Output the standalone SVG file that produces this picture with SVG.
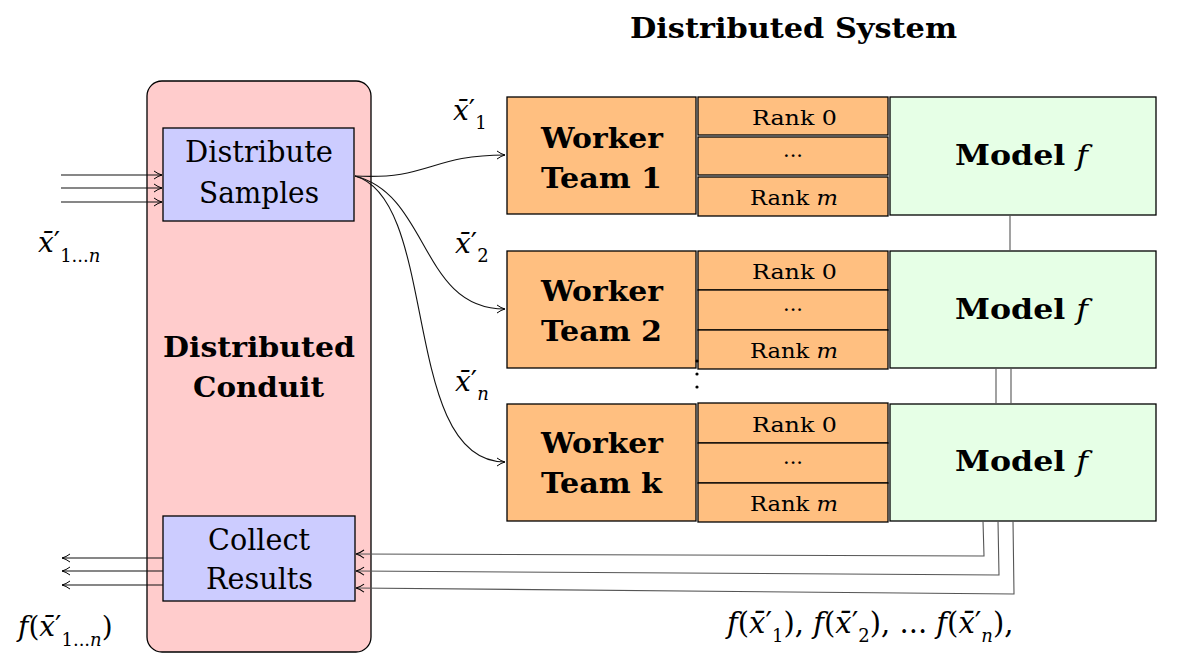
<svg xmlns="http://www.w3.org/2000/svg" width="1177" height="671" viewBox="0 0 1177 671">
<defs>
<style>
text{font-family:'DejaVu Serif','Liberation Serif',serif;fill:#000}
.b{font-weight:bold}
.i{font-style:italic}
.box{stroke:#000;stroke-width:1.3}
.pink{fill:#FFCCCC}
.blue{fill:#CCCCFF}
.orange{fill:#FFBF80}
.green{fill:#E6FFE6}
.c{fill:none;stroke:#111;stroke-width:1.1}
.g{fill:none;stroke:#555;stroke-width:1.1}
.big{font-size:29px}
.wt{font-size:27px}
.md{font-size:28px}
.rk{font-size:21px}
.m{font-size:28px}
.mb{font-size:29px}
.sub{font-size:18px}
</style>
<marker id="arr" viewBox="0 0 10 10" refX="9" refY="5" markerWidth="10" markerHeight="10" markerUnits="userSpaceOnUse" orient="auto">
<path d="M1,1 Q5,4 9,5 Q5,6 1,9" fill="none" stroke="#000" stroke-width="1"/>
</marker>
</defs>

<text class="b" x="630" y="38" font-size="27" textLength="327" lengthAdjust="spacingAndGlyphs">Distributed System</text>

<g id="conduit">
<rect class="box pink" x="147" y="81" width="224" height="571" rx="15"/>
<text class="b wt" x="163" y="357" textLength="192" lengthAdjust="spacingAndGlyphs">Distributed</text>
<text class="b wt" x="193" y="397" textLength="131" lengthAdjust="spacingAndGlyphs">Conduit</text>
</g>

<g id="distribute">
<rect class="box blue" x="163" y="128" width="191" height="93"/>
<text class="big" x="185" y="162" textLength="148" lengthAdjust="spacingAndGlyphs">Distribute</text>
<text class="big" x="199" y="203" textLength="120" lengthAdjust="spacingAndGlyphs">Samples</text>
</g>

<g id="collect">
<rect class="box blue" x="163" y="516" width="192" height="85"/>
<text class="big" x="208" y="550" textLength="102" lengthAdjust="spacingAndGlyphs">Collect</text>
<text class="big" x="206" y="589" textLength="107" lengthAdjust="spacingAndGlyphs">Results</text>
</g>

<g id="team1">
<rect class="box orange" x="507" y="97" width="189" height="117"/>
<text class="b wt" x="541" y="148" textLength="122" lengthAdjust="spacingAndGlyphs">Worker</text>
<text class="b wt" x="541" y="188" textLength="121" lengthAdjust="spacingAndGlyphs">Team 1</text>
<rect class="box orange" x="698" y="97" width="190" height="38"/>
<text class="rk" x="752" y="125" textLength="85" lengthAdjust="spacingAndGlyphs">Rank 0</text>
<rect class="box orange" x="698" y="137" width="190" height="38"/>
<text class="rk" x="793" y="157" text-anchor="middle">...</text>
<rect class="box orange" x="698" y="177" width="190" height="39"/>
<text class="rk" x="750" y="205" textLength="88" lengthAdjust="spacingAndGlyphs">Rank <tspan class="i">m</tspan></text>
</g>

<g id="team2">
<rect class="box orange" x="507" y="251" width="189" height="117"/>
<text class="b wt" x="541" y="301" textLength="122" lengthAdjust="spacingAndGlyphs">Worker</text>
<text class="b wt" x="541" y="341" textLength="121" lengthAdjust="spacingAndGlyphs">Team 2</text>
<rect class="box orange" x="698" y="251" width="190" height="39"/>
<text class="rk" x="752" y="279" textLength="85" lengthAdjust="spacingAndGlyphs">Rank 0</text>
<rect class="box orange" x="698" y="290" width="190" height="40"/>
<text class="rk" x="793" y="311" text-anchor="middle">...</text>
<rect class="box orange" x="698" y="330" width="190" height="39"/>
<text class="rk" x="750" y="358" textLength="88" lengthAdjust="spacingAndGlyphs">Rank <tspan class="i">m</tspan></text>
</g>

<g id="teamk">
<rect class="box orange" x="507" y="404" width="189" height="117"/>
<text class="b wt" x="541" y="453" textLength="122" lengthAdjust="spacingAndGlyphs">Worker</text>
<text class="b wt" x="541" y="493" textLength="121" lengthAdjust="spacingAndGlyphs">Team k</text>
<rect class="box orange" x="698" y="403" width="190" height="40"/>
<text class="rk" x="752" y="432" textLength="85" lengthAdjust="spacingAndGlyphs">Rank 0</text>
<rect class="box orange" x="698" y="443" width="190" height="40"/>
<text class="rk" x="793" y="464" text-anchor="middle">...</text>
<rect class="box orange" x="698" y="483" width="190" height="39"/>
<text class="rk" x="750" y="511" textLength="88" lengthAdjust="spacingAndGlyphs">Rank <tspan class="i">m</tspan></text>
</g>

<g id="vdots">
<circle cx="697" cy="361" r="1.6" fill="#000"/>
<circle cx="697" cy="374" r="1.6" fill="#000"/>
<circle cx="697" cy="387" r="1.6" fill="#000"/>
</g>

<g id="model1">
<rect class="box green" x="890" y="97" width="266" height="118"/>
<text class="b md" x="955" y="165" textLength="133" lengthAdjust="spacingAndGlyphs">Model <tspan class="i" font-weight="normal">f</tspan></text>
</g>
<g id="model2">
<rect class="box green" x="890" y="251" width="266" height="117"/>
<text class="b md" x="955" y="319" textLength="133" lengthAdjust="spacingAndGlyphs">Model <tspan class="i" font-weight="normal">f</tspan></text>
</g>
<g id="modelk">
<rect class="box green" x="890" y="404" width="266" height="117"/>
<text class="b md" x="955" y="471" textLength="133" lengthAdjust="spacingAndGlyphs">Model <tspan class="i" font-weight="normal">f</tspan></text>
</g>

<g id="connectors">
<path class="c" d="M61,175 L162,175" marker-end="url(#arr)"/>
<path class="c" d="M61,188 L162,188" marker-end="url(#arr)"/>
<path class="c" d="M61,202 L162,202" marker-end="url(#arr)"/>
<path class="c" d="M355,176 C430,180 430,155 505,155" marker-end="url(#arr)"/>
<path class="c" d="M355,176 C430,195 420,309 505,309" marker-end="url(#arr)"/>
<path class="c" d="M355,176 C440,200 400,462 505,462" marker-end="url(#arr)"/>
<path class="c" d="M163,558 L62,558" marker-end="url(#arr)"/>
<path class="c" d="M163,571 L62,571" marker-end="url(#arr)"/>
<path class="c" d="M163,585 L62,585" marker-end="url(#arr)"/>
<path class="g" d="M1010,215 L1010,251"/>
<path class="g" d="M996,368 L996,404"/>
<path class="g" d="M1011,368 L1011,404"/>
<path class="g" d="M983,521 L984,556 L356,554" marker-end="url(#arr)"/>
<path class="g" d="M998,521 L999,575 L356,571" marker-end="url(#arr)"/>
<path class="g" d="M1013,521 L1014,594 L356,588" marker-end="url(#arr)"/>
</g>

<g id="labels">
<text class="m" x="453" y="120"><tspan class="i">x̄</tspan>′<tspan class="sub" dy="9">1</tspan></text>
<text class="m" x="455" y="253"><tspan class="i">x̄</tspan>′<tspan class="sub" dy="9">2</tspan></text>
<text class="m" x="455" y="391"><tspan class="i">x̄</tspan>′<tspan class="sub i" dy="9">n</tspan></text>
<text class="m" x="38" y="252"><tspan class="i">x̄</tspan>′<tspan class="sub" dy="10">1...<tspan class="i">n</tspan></tspan></text>
<text class="m" x="18" y="636"><tspan class="i">f</tspan>(<tspan class="i">x̄</tspan>′<tspan class="sub" dy="10">1...<tspan class="i">n</tspan></tspan><tspan dy="-10">)</tspan></text>
<text class="mb" x="727" y="633"><tspan class="i">f</tspan>(<tspan class="i">x̄</tspan>′<tspan class="sub" dy="9">1</tspan><tspan dy="-9">), </tspan><tspan class="i">f</tspan>(<tspan class="i">x̄</tspan>′<tspan class="sub" dy="9">2</tspan><tspan dy="-9">), ... </tspan><tspan class="i">f</tspan>(<tspan class="i">x̄</tspan>′<tspan class="sub i" dy="9">n</tspan><tspan dy="-9">),</tspan></text>
</g>
</svg>
